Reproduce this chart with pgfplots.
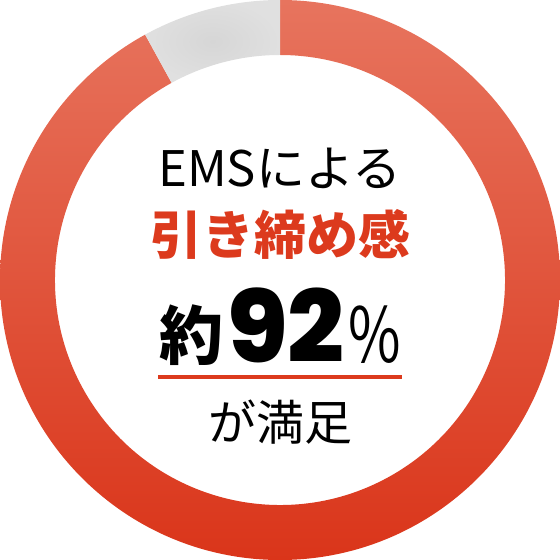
\documentclass[border=0pt]{standalone}
\usepackage{pgfplots}
\pgfplotsset{compat=1.18}
\usepackage{pgfplotstable}
\usepackage{graphicx}
\usepackage{fontspec}
\setmainfont{Noto Sans CJK JP}
\newfontfamily\jp{Noto Sans CJK JP}
\newfontfamily\pop{Poppins}[UprightFont=* ExtraBold]
\definecolor{ringtop}{HTML}{E7745E}
\definecolor{ringbot}{HTML}{DA351A}
\definecolor{txtred}{HTML}{DC3A1D}
\definecolor{ringgray}{HTML}{E0E0E0}
\definecolor{ringgrayin}{HTML}{D6D6D6}

\pgfplotstableread{
label value
satisfied 92
other 8
}\datatable

\begin{document}
\begin{tikzpicture}
\pgfplotstablegetelem{0}{value}\of\datatable
\pgfmathsetmacro{\valA}{\pgfplotsretval}
\pgfmathsetmacro{\aEnd}{90-3.6*\valA}
\pgfmathsetmacro{\aGray}{90-3.6*\valA+360}
\begin{axis}[
  scale only axis, width=560pt, height=560pt,
  xmin=-280, xmax=280, ymin=-280, ymax=280,
  hide axis, clip=false
]
% red part (92%)
\shade[top color=ringtop, bottom color=ringbot]
  (axis cs:0,280) arc[start angle=90, end angle=\aEnd, radius=280pt]
  -- ({axis cs:{225*cos(\aEnd)},{225*sin(\aEnd)}})
  arc[start angle=\aEnd, end angle=90, radius=225pt] -- cycle;
% gray part (8%)
\shade[outer color=ringgray, inner color=ringgrayin]
  (axis cs:0,280) arc[start angle=90, end angle=\aGray, radius=280pt]
  -- ({axis cs:{225*cos(\aGray)},{225*sin(\aGray)}})
  arc[start angle=\aGray, end angle=90, radius=225pt] -- cycle;

\node[anchor=base, inner sep=0pt] at (axis cs:0,93)
  {\jp\fontsize{49}{49}\selectfont EMSによる};
\node[anchor=base, inner sep=0pt, text=txtred] at (axis cs:0,25)
  {\jp\bfseries\fontsize{52}{52}\selectfont 引き締め感};
\node[anchor=base, inner sep=0pt] at (axis cs:0,-83)
  {\raisebox{3pt}{\jp\bfseries\fontsize{64}{64}\selectfont 約}\hspace{4pt}{\pop\fontsize{100}{100}\selectfont 92}\hspace{4pt}\scalebox{0.75}[1]{\jp\fontsize{76}{76}\selectfont \%}};
\draw[txtred, line width=3.3pt] (axis cs:-122,-97) -- (axis cs:122,-97);
\node[anchor=base, inner sep=0pt] at (axis cs:0,-161)
  {\jp\fontsize{48}{48}\selectfont が満足};
\end{axis}
\end{tikzpicture}
\end{document}
